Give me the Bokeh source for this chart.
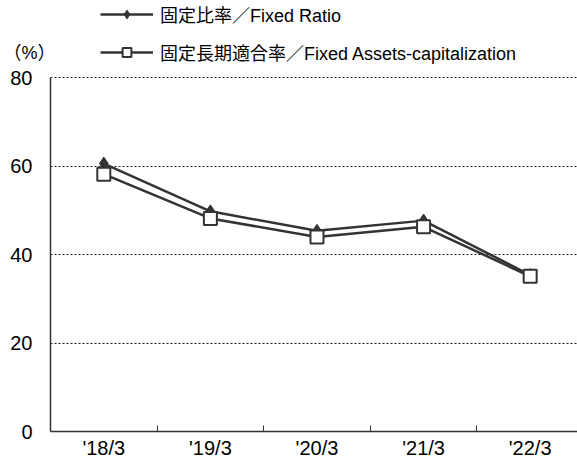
from bokeh.plotting import figure
from bokeh.models import FixedTicker, Legend, LegendItem, Range1d
from bokeh.layouts import column
from bokeh.embed import file_html
from bokeh.resources import INLINE

categories = ["'18/3", "'19/3", "'20/3", "'21/3", "'22/3"]
fixed_ratio = [60.6, 49.8, 45.4, 47.7, 35.4]
fixed_assets_cap = [58.2, 48.2, 44.0, 46.3, 35.1]
y_ticks = [0, 20, 40, 60, 80]
series_names = ["固定比率／Fixed Ratio", "固定長期適合率／Fixed Assets-capitalization"]
unit_text = "（%）"

xpos = [i + 0.5 for i in range(len(categories))]

LINE = "#333333"
FONT_NUM = "Liberation Sans"
FONT_TXT = "Liberation Sans, Noto Sans CJK JP"
W = 577
X_END = 4.944
HEAD_H = 67


def add_series(fig):
    l1 = fig.line(xpos, fixed_ratio, line_color=LINE, line_width=2.5)
    m1 = fig.scatter(xpos, fixed_ratio, marker="diamond", size=13,
                     fill_color=LINE, line_color=LINE)
    l2 = fig.line(xpos, fixed_assets_cap, line_color=LINE, line_width=2.5)
    m2 = fig.scatter(xpos, fixed_assets_cap, marker="square", size=13,
                     fill_color="white", line_color=LINE, line_width=2)
    return l1, m1, l2, m2


# ---- header: legend, and the unit shown as the header's only axis label ----
UNIT_POS = 115
h = figure(width=W, height=HEAD_H, output_backend="svg", toolbar_location=None,
           x_range=Range1d(0, X_END), y_range=Range1d(100, 100 + HEAD_H),
           x_axis_location=None, y_axis_location="left",
           min_border=0, min_border_top=0, min_border_bottom=0,
           min_border_left=48)
h.outline_line_color = None
h.grid.visible = False
h.yaxis.ticker = FixedTicker(ticks=[UNIT_POS])
h.yaxis.major_label_overrides = {UNIT_POS: unit_text}
h.yaxis.axis_line_color = None
h.yaxis.major_tick_line_color = None
h.yaxis.minor_tick_line_color = None
h.yaxis.major_tick_in = 0
h.yaxis.major_tick_out = 0
h.yaxis.minor_tick_in = 0
h.yaxis.minor_tick_out = 0
h.yaxis.major_label_standoff = -5
h.yaxis.major_label_text_font = FONT_TXT
h.yaxis.major_label_text_font_size = "18px"
h.yaxis.major_label_text_color = "black"

hl1, hm1, hl2, hm2 = add_series(h)
legend = Legend(items=[
    LegendItem(label=series_names[0], renderers=[hl1, hm1]),
    LegendItem(label=series_names[1], renderers=[hl2, hm2]),
], location=(50, 2), orientation="vertical")
legend.glyph_width = 53
legend.glyph_height = 22
legend.spacing = 12
legend.label_standoff = 7
legend.padding = 0
legend.margin = 0
legend.border_line_color = None
legend.background_fill_alpha = 0
legend.label_text_font = FONT_TXT
legend.label_text_font_size = "18px"
legend.label_text_color = "black"
h.add_layout(legend, "center")

# ---- main chart ----
p = figure(width=W, height=464 - HEAD_H, output_backend="svg", toolbar_location=None,
           x_range=Range1d(0, X_END), y_range=Range1d(0, 80.3),
           min_border_left=48, min_border_right=0, min_border_top=9,
           min_border_bottom=33)
p.outline_line_color = None

p.yaxis.ticker = FixedTicker(ticks=y_ticks)
p.yaxis.major_tick_line_color = None
p.yaxis.minor_tick_line_color = None
p.yaxis.major_tick_in = 0
p.yaxis.major_tick_out = 0
p.yaxis.minor_tick_in = 0
p.yaxis.minor_tick_out = 0
p.yaxis.major_label_standoff = 18
p.yaxis.major_label_text_font = FONT_NUM
p.yaxis.major_label_text_font_size = "20px"
p.yaxis.major_label_text_color = "black"
p.yaxis.axis_line_color = LINE
p.yaxis.axis_line_width = 1.5
p.yaxis.bounds = (0, 80)

p.xaxis.ticker = FixedTicker(ticks=xpos, minor_ticks=[1, 2, 3, 4])
p.xaxis.major_label_overrides = {x: c for x, c in zip(xpos, categories)}
p.xaxis.major_tick_line_color = None
p.xaxis.major_tick_in = 0
p.xaxis.major_tick_out = 0
p.xaxis.minor_tick_in = 6
p.xaxis.minor_tick_out = 0
p.xaxis.minor_tick_line_color = LINE
p.xaxis.minor_tick_line_width = 1
p.xaxis.major_label_standoff = 5
p.xaxis.major_label_text_font = FONT_NUM
p.xaxis.major_label_text_font_size = "20px"
p.xaxis.major_label_text_color = "black"
p.xaxis.axis_line_color = LINE
p.xaxis.axis_line_width = 1.5

p.xgrid.grid_line_color = None
p.ygrid.ticker = FixedTicker(ticks=[20, 40, 60, 80])
p.ygrid.grid_line_color = "#222222"
p.ygrid.grid_line_dash = "2 2"
p.ygrid.grid_line_width = 1

add_series(p)

layout = column(h, p, spacing=0)
open("out.html", "w").write(file_html(layout, INLINE))
